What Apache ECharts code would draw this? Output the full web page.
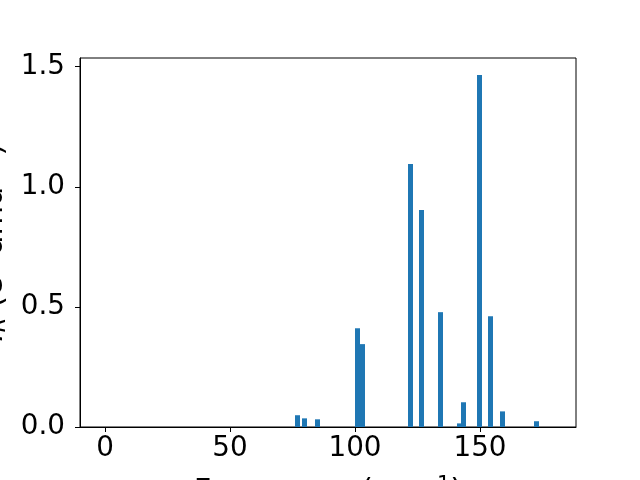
<!DOCTYPE html>
<html>
<head>
<meta charset="utf-8">
<script src="https://cdn.jsdelivr.net/npm/echarts@6/dist/echarts.min.js"></script>
<style>html,body{margin:0;padding:0;background:#fff;}#c{width:640px;height:480px;}</style>
</head>
<body>
<div id="c"></div>
<script>
const frequencies = [77.0, 79.8, 85.0, 101.0, 103.0, 122.2, 126.6, 134.2, 141.8, 143.4, 149.8, 154.2, 159.0, 172.6];
const intensities = [0.049, 0.036, 0.032, 0.411, 0.345, 1.095, 0.903, 0.478, 0.015, 0.103, 1.465, 0.461, 0.065, 0.024];
const xTicks = [0, 50, 100, 150];
const yTicks = [0, 0.5, 1.0, 1.5];

const font = 'DejaVu Sans';
const chart = echarts.init(document.getElementById('c'), null, {renderer: 'canvas'});
chart.setOption({
  animation: false,
  backgroundColor: '#fff',
  grid: {left: 80, right: 64, top: 58, bottom: 53, containLabel: false, outerBoundsMode: 'none',
    show: true, borderColor: '#000', borderWidth: 1, backgroundColor: 'transparent'},
  xAxis: {
    type: 'value', min: -10, max: 188.4,
    name: 'Frequency (cm{sup|−1})',
    nameLocation: 'middle', nameGap: 48,
    nameTextStyle: {fontFamily: font, fontSize: 30.5, color: '#000',
      rich: {sup: {fontFamily: font, fontSize: 21, color: '#000', padding: [0, 0, 13, 0]}}},
    axisLine: {show: true, onZero: false, lineStyle: {color: '#000', width: 1}},
    axisTick: {show: true, length: 5, customValues: xTicks, lineStyle: {color: '#000', width: 1}},
    axisLabel: {customValues: xTicks, fontFamily: font, fontSize: 27.8, color: '#000', margin: 8},
    splitLine: {show: false}
  },
  yAxis: {
    type: 'value', min: 0, max: 1.536,
    name: '{i|I}{sub|R} (e{sup|2} amu{sup|−1})',
    nameLocation: 'middle', nameGap: 59, nameRotate: 90,
    nameTextStyle: {fontFamily: font, fontSize: 30.5, color: '#000',
      rich: {
        i: {fontFamily: font, fontSize: 30.5, fontStyle: 'italic', color: '#000'},
        sub: {fontFamily: font, fontSize: 21, fontStyle: 'italic', color: '#000', padding: [11, 0, 0, 0]},
        sup: {fontFamily: font, fontSize: 21, color: '#000', padding: [0, 0, 13, 0]}
      }},
    axisLine: {show: true, onZero: false, lineStyle: {color: '#000', width: 1}},
    axisTick: {show: true, length: 5, customValues: yTicks, lineStyle: {color: '#000', width: 1}},
    axisLabel: {customValues: yTicks, fontFamily: font, fontSize: 27.8, color: '#000', margin: 15,
      formatter: v => v.toFixed(1)},
    splitLine: {show: false}
  },
  series: [{
    type: 'bar',
    barWidth: 5,
    itemStyle: {color: '#1f77b4'},
    data: frequencies.map((f, i) => [f, intensities[i]])
  }]
});
</script>
</body>
</html>
